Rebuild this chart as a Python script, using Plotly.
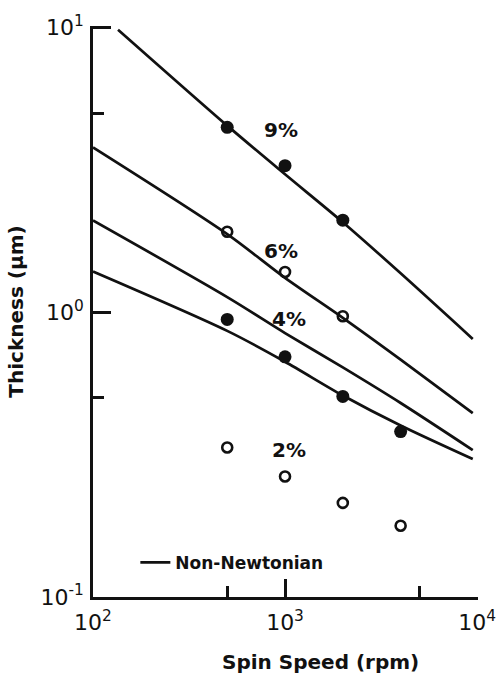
import numpy as np
import plotly.graph_objects as go

# ---- data ----
# model curves (Non-Newtonian), spin speed in rpm, thickness in um
curve_9_x = [135, 500, 1000, 2000, 4000, 9500]
curve_9_y = [9.82, 4.52, 3.05, 2.07, 1.37, 0.806]
curve_6_x = [100, 500, 1000, 2000, 4000, 9500]
curve_6_y = [3.79, 1.88, 1.32, 0.956, 0.682, 0.442]
curve_4_x = [100, 500, 1000, 2000, 4000, 9500]
curve_4_y = [2.10, 1.13, 0.845, 0.64, 0.48, 0.328]
curve_2_x = [100, 500, 1000, 2000, 4000, 9500]
curve_2_y = [1.39, 0.86, 0.67, 0.51, 0.40, 0.305]

# measured points
pts_9_x = [500, 1000, 2000]
pts_9_y = [4.46, 3.27, 2.105]
pts_6_x = [500, 1000, 2000]
pts_6_y = [1.917, 1.385, 0.968]
pts_4_x = [500, 1000, 2000, 4000]
pts_4_y = [0.943, 0.697, 0.506, 0.381]
pts_2_x = [500, 1000, 2000, 4000]
pts_2_y = [0.335, 0.265, 0.214, 0.178]

conc_labels = ["9%", "6%", "4%", "2%"]
label_x = [948, 950, 1050, 1050]
label_y = [4.36, 1.645, 0.943, 0.328]

x_tickvals = [100, 1000, 10000]
x_ticktext = ["10<sup>2</sup>", "10<sup>3</sup>", "10<sup>4</sup>"]
y_tickvals = [0.1, 1, 10]
y_ticktext = ["10<sup>-1</sup>", "10<sup>0</sup>", "10<sup>1</sup>"]
x_minor = [500, 5000]
y_minor = [0.5, 5]

INK = "#111111"
FONT = "DejaVu Sans"

fig = go.Figure()

curves = [(curve_9_x, curve_9_y), (curve_6_x, curve_6_y),
          (curve_4_x, curve_4_y), (curve_2_x, curve_2_y)]
for i, (cx, cy) in enumerate(curves):
    fig.add_trace(go.Scatter(
        x=cx, y=cy, mode="lines",
        line=dict(color=INK, width=2.7, shape="spline", smoothing=0.8),
        name="Non-Newtonian", showlegend=(i == 0), hoverinfo="skip"))

filled = dict(symbol="circle", size=13, color=INK)
hollow = dict(symbol="circle-open", size=10, color=INK, line=dict(width=2.6, color=INK))
for px, py, mk in [(pts_9_x, pts_9_y, filled), (pts_6_x, pts_6_y, hollow),
                   (pts_4_x, pts_4_y, filled), (pts_2_x, pts_2_y, hollow)]:
    fig.add_trace(go.Scatter(x=px, y=py, mode="markers", marker=mk,
                             showlegend=False))

for t, lx, ly in zip(conc_labels, label_x, label_y):
    fig.add_annotation(x=np.log10(lx), y=np.log10(ly), xref="x", yref="y",
                       text="<b>%s</b>" % t, showarrow=False,
                       font=dict(family=FONT, size=20, color=INK))

fig.add_annotation(x=0.59, y=-0.114, xref="paper", yref="paper",
                   text="<b>Spin Speed (rpm)</b>", showarrow=False,
                   yanchor="middle", xanchor="center",
                   font=dict(family=FONT, size=20, color=INK))

fig.update_layout(
    width=496, height=673,
    margin=dict(l=93, r=18, t=26, b=76),
    paper_bgcolor="white", plot_bgcolor="white",
    font=dict(family=FONT, size=20, color=INK),
    showlegend=True,
    legend=dict(x=0.11, y=0.06, xanchor="left", yanchor="middle",
                bgcolor="rgba(0,0,0,0)",
                font=dict(family=FONT, size=17, color=INK, weight="bold")),
)

fig.update_xaxes(
    type="log", range=[2, 4.005], showgrid=False, zeroline=False,
    showline=True, linewidth=2.7, linecolor=INK, mirror=False,
    ticks="inside", ticklen=18, tickwidth=2.7, tickcolor=INK,
    tickmode="array", tickvals=x_tickvals, ticktext=x_ticktext,
    tickfont=dict(family=FONT, size=22, color=INK), ticklabelstandoff=4,
    minor=dict(tickmode="array", tickvals=x_minor, ticks="inside",
               ticklen=11, tickwidth=2.7, tickcolor=INK, showgrid=False),
    automargin=False,
)
fig.update_yaxes(
    type="log", range=[-1, 1.005], showgrid=False, zeroline=False,
    showline=True, linewidth=2.7, linecolor=INK, mirror=False,
    ticks="inside", ticklen=18, tickwidth=2.7, tickcolor=INK,
    tickmode="array", tickvals=y_tickvals, ticktext=y_ticktext,
    tickfont=dict(family=FONT, size=22, color=INK), ticklabelstandoff=2,
    minor=dict(tickmode="array", tickvals=y_minor, ticks="inside",
               ticklen=11, tickwidth=2.7, tickcolor=INK, showgrid=False),
    title=dict(text="<b>Thickness (μm)</b>", standoff=12,
               font=dict(family=FONT, size=20, color=INK)),
    automargin=False,
)

fig.write_html("out.html")
